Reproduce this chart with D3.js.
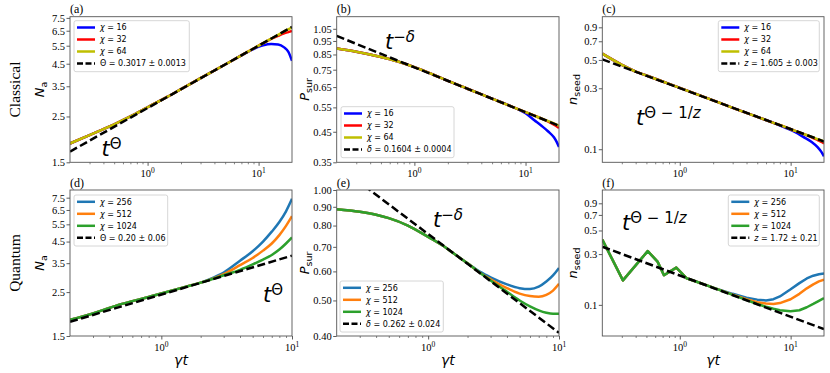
<!DOCTYPE html>
<html>
<head>
<meta charset="utf-8">
<script src="https://cdn.jsdelivr.net/npm/d3@7"></script>
<style>
  body { margin: 0; background: #fff; }
  svg { display: block; }
</style>
</head>
<body>
<div class="container"></div>
<script>
// ---- data ----
// (a) classical N_a
let tA = [0.2, 0.3, 0.4, 0.5, 0.7, 1, 1.5, 2, 3, 5, 7, 9, 11, 13, 15, 17, 18.5, 20]
let naChi16 = [1.85, 2.03, 2.17, 2.29, 2.50, 2.77, 3.11, 3.39, 3.83, 4.46, 4.94, 5.30, 5.52, 5.60, 5.58, 5.40, 5.15, 4.65]
let naChi32 = [1.85, 2.03, 2.17, 2.29, 2.50, 2.77, 3.11, 3.39, 3.83, 4.46, 4.94, 5.33, 5.66, 5.93, 6.14, 6.31, 6.40, 6.48]
let naChi64 = [1.85, 2.03, 2.17, 2.29, 2.50, 2.77, 3.11, 3.39, 3.83, 4.46, 4.94, 5.33, 5.66, 5.95, 6.21, 6.45, 6.60, 6.76]
let naFitT = [0.2, 20]
let naFit = [1.69, 6.78]

// (b) classical P_sur
let tB = [0.2, 0.3, 0.5, 0.7, 1, 1.5, 2, 3, 5, 7, 10, 12, 14, 16, 18, 19, 20]
let psChi16 = [0.893, 0.870, 0.833, 0.804, 0.766, 0.718, 0.684, 0.641, 0.591, 0.560, 0.524, 0.495, 0.472, 0.451, 0.430, 0.415, 0.397]
let psChi32 = [0.893, 0.870, 0.833, 0.804, 0.766, 0.718, 0.684, 0.641, 0.591, 0.560, 0.529, 0.514, 0.501, 0.489, 0.477, 0.471, 0.464]
let psChi64 = [0.893, 0.870, 0.833, 0.804, 0.766, 0.718, 0.684, 0.641, 0.591, 0.560, 0.529, 0.514, 0.501, 0.491, 0.482, 0.477, 0.472]
let psFitT = [0.2, 20]
let psFit = [0.99, 0.473]

// (c) classical n_seed
let tC = [0.2, 0.3, 0.4, 0.5, 0.7, 1, 2, 3, 5, 7, 9, 11, 13, 15.5, 17.5, 19, 20]
let nsChi16 = [0.56, 0.458, 0.405, 0.378, 0.339, 0.302, 0.241, 0.211, 0.179, 0.161, 0.147, 0.136, 0.125, 0.114, 0.104, 0.095, 0.088]
let nsChi32 = [0.56, 0.458, 0.405, 0.378, 0.339, 0.302, 0.241, 0.211, 0.179, 0.161, 0.149, 0.139, 0.132, 0.124, 0.118, 0.114, 0.111]
let nsChi64 = [0.56, 0.458, 0.405, 0.378, 0.339, 0.302, 0.241, 0.211, 0.179, 0.161, 0.149, 0.139, 0.132, 0.125, 0.120, 0.117, 0.115]
let nsFitT = [0.2, 20]
let nsFit = [0.505, 0.115]

// (d) quantum N_a
let tD = [0.2, 0.3, 0.4, 0.5, 0.6, 0.8, 1, 1.5, 2, 2.5, 3, 4, 5, 6, 7, 8, 9, 10]
let qnaChi256 = [1.81, 1.95, 2.08, 2.18, 2.25, 2.36, 2.46, 2.65, 2.79, 2.96, 3.14, 3.60, 4.02, 4.50, 5.05, 5.65, 6.40, 7.40]
let qnaChi512 = [1.81, 1.95, 2.08, 2.18, 2.25, 2.36, 2.46, 2.65, 2.79, 2.93, 3.08, 3.42, 3.72, 4.05, 4.40, 4.85, 5.40, 6.05]
let qnaChi1024 = [1.81, 1.95, 2.08, 2.18, 2.25, 2.36, 2.46, 2.65, 2.79, 2.92, 3.04, 3.24, 3.45, 3.65, 3.85, 4.10, 4.40, 4.72]
let qnaFitT = [0.2, 10]
let qnaFit = [1.77, 3.82]

// (e) quantum P_sur
let tE = [0.2, 0.3, 0.4, 0.5, 0.7, 1, 1.3, 1.6, 2, 2.5, 3, 4, 5, 6, 7, 8, 9, 10]
let qpsChi256 = [0.886, 0.872, 0.856, 0.838, 0.800, 0.745, 0.705, 0.668, 0.631, 0.598, 0.578, 0.553, 0.540, 0.537, 0.545, 0.563, 0.585, 0.613]
let qpsChi512 = [0.886, 0.872, 0.856, 0.838, 0.800, 0.745, 0.705, 0.668, 0.631, 0.594, 0.571, 0.540, 0.522, 0.514, 0.512, 0.518, 0.532, 0.555]
let qpsChi1024 = [0.886, 0.872, 0.856, 0.838, 0.800, 0.745, 0.705, 0.668, 0.631, 0.594, 0.567, 0.528, 0.500, 0.482, 0.470, 0.463, 0.460, 0.460]
let qpsFitT = [0.2, 10]
let qpsFit = [1.17, 0.408]

// (f) quantum n_seed
let tF = [0.2, 0.307, 0.514, 0.63, 0.72, 0.93, 1.15, 1.4, 2, 3, 4, 5, 6, 7, 8, 10, 12, 14, 16, 18, 20]
let qnsChi256 = [0.41, 0.17, 0.32, 0.255, 0.19, 0.224, 0.178, 0.166, 0.145, 0.127, 0.117, 0.112, 0.110, 0.113, 0.120, 0.140, 0.160, 0.177, 0.188, 0.194, 0.197]
let qnsChi512 = [0.41, 0.17, 0.32, 0.255, 0.19, 0.224, 0.178, 0.166, 0.145, 0.125, 0.113, 0.106, 0.103, 0.102, 0.104, 0.113, 0.127, 0.143, 0.156, 0.166, 0.1725]
let qnsChi1024 = [0.41, 0.17, 0.32, 0.255, 0.19, 0.224, 0.178, 0.166, 0.145, 0.124, 0.111, 0.102, 0.096, 0.092, 0.089, 0.087, 0.089, 0.095, 0.102, 0.109, 0.1155]
let qnsFitT = [0.2, 20]
let qnsFit = [0.352, 0.0592]

let ticksNa = [1.5, 2.5, 3.5, 4.5, 5.5, 6.5, 7.5]
let ticksPsC = [0.35, 0.45, 0.55, 0.65, 0.75, 0.85, 0.95, 1.05]
let ticksPsQ = [0.40, 0.50, 0.60, 0.70, 0.80, 0.90, 1.00]
let ticksNs = [0.1, 0.3, 0.5, 0.7, 0.9]

let classicalLabels = ["16", "32", "64"]
let quantumLabels = ["256", "512", "1024"]
let classicalColors = ["#0000ff", "#ff0000", "#bfbf00"]
let quantumColors = ["#1f77b4", "#ff7f0e", "#2ca02c"]

// ---- layout ----
let width = 830
let height = 373
let cols = [[70, 292], [336.7, 559], [602.3, 824]]
let rows = [[16.7, 162.3], [190, 336]]
let serif = "'Liberation Serif', 'Times New Roman', serif"
let sans = "'DejaVu Sans', sans-serif"

let svg = d3.select(".container")
  .append("svg")
  .attr("width", width)
  .attr("height", height)

let panels = [
  { id: "a", col: 0, row: 0, tdom: [0.2, 20], ydom: [1.5, 7.6], yticks: ticksNa, yfmt: ".1f",
    t: tA, series: [naChi16, naChi32, naChi64], fitT: naFitT, fit: naFit,
    colors: classicalColors, labels: classicalLabels, fitSym: "Θ", fitSymItalic: false, fitText: " = 0.3017 ± 0.0013",
    legend: [74, 20.7, 115.3], ylab: ["N", "a"], ylabX: 44,
    note: { x: 101.5, y: 156, sup: "Θ" } },
  { id: "b", col: 1, row: 0, tdom: [0.2, 20], ydom: [0.35, 1.16], yticks: ticksPsC, yfmt: ".2f",
    t: tB, series: [psChi16, psChi32, psChi64], fitT: psFitT, fit: psFit,
    colors: classicalColors, labels: classicalLabels, fitSym: "δ", fitSymItalic: true, fitText: " = 0.1604 ± 0.0004",
    legend: [341, 106.7, 113], ylab: ["P", "sur"], ylabX: 309,
    note: { x: 385, y: 48.5, sup: "−δ" } },
  { id: "c", col: 2, row: 0, tdom: [0.2, 20], ydom: [0.079, 1.09], yticks: ticksNs, yfmt: ".1f",
    t: tC, series: [nsChi16, nsChi32, nsChi64], fitT: nsFitT, fit: nsFit,
    colors: classicalColors, labels: classicalLabels, fitSym: "z", fitSymItalic: true, fitText: " = 1.605 ± 0.003",
    legend: [718.3, 20.7, 101], ylab: ["n", "seed"], ylabX: 577,
    note: { x: 636, y: 125, sup: "Θ − 1/z" } },
  { id: "d", col: 0, row: 1, tdom: [0.2, 10], ydom: [1.5, 8.2], yticks: ticksNa, yfmt: ".1f",
    t: tD, series: [qnaChi256, qnaChi512, qnaChi1024], fitT: qnaFitT, fit: qnaFit,
    colors: quantumColors, labels: quantumLabels, fitSym: "Θ", fitSymItalic: false, fitText: " = 0.20 ± 0.06",
    legend: [74, 195, 93.7], ylab: ["N", "a"], ylabX: 44,
    note: { x: 263, y: 301.5, sup: "Θ" } },
  { id: "e", col: 1, row: 1, tdom: [0.2, 10], ydom: [0.4, 1.0], yticks: ticksPsQ, yfmt: ".2f",
    t: tE, series: [qpsChi256, qpsChi512, qpsChi1024], fitT: qpsFitT, fit: qpsFit,
    colors: quantumColors, labels: quantumLabels, fitSym: "δ", fitSymItalic: true, fitText: " = 0.262 ± 0.024",
    legend: [340, 281, 103.3], ylab: ["P", "sur"], ylabX: 309,
    note: { x: 433, y: 226.5, sup: "−δ" } },
  { id: "f", col: 2, row: 1, tdom: [0.2, 20], ydom: [0.051, 1.2], yticks: ticksNs, yfmt: ".1f",
    t: tF, series: [qnsChi256, qnsChi512, qnsChi1024], fitT: qnsFitT, fit: qnsFit,
    colors: quantumColors, labels: quantumLabels, fitSym: "z", fitSymItalic: true, fitText: " = 1.72 ± 0.21",
    legend: [728.3, 195, 91], ylab: ["n", "seed"], ylabX: 577,
    note: { x: 622, y: 230, sup: "Θ − 1/z" }, sharp: true }
]

panels.forEach(drawPanel)

// row titles
svg.append("text")
  .attr("transform", "translate(20," + ((rows[0][0] + rows[0][1]) / 2) + ") rotate(-90)")
  .attr("text-anchor", "middle")
  .attr("font-family", serif)
  .attr("font-size", "15.5px")
  .text("Classical")
svg.append("text")
  .attr("transform", "translate(20," + ((rows[1][0] + rows[1][1]) / 2) + ") rotate(-90)")
  .attr("text-anchor", "middle")
  .attr("font-family", serif)
  .attr("font-size", "15.5px")
  .text("Quantum")

function drawPanel(p) {
  let x0 = cols[p.col][0], x1 = cols[p.col][1]
  let y0 = rows[p.row][0], y1 = rows[p.row][1]
  let x = d3.scaleLog().domain(p.tdom).range([x0, x1])
  let y = d3.scaleLog().domain(p.ydom).range([y1, y0])

  svg.append("clipPath")
    .attr("id", "clip-" + p.id)
    .append("rect")
    .attr("x", x0).attr("y", y0)
    .attr("width", x1 - x0).attr("height", y1 - y0)

  // minor x ticks
  let minor = []
  for (let k = -1; k <= 1; k++) {
    for (let m = 2; m <= 9; m++) {
      let v = m * Math.pow(10, k)
      if (v > p.tdom[0] * 1.0001 && v < p.tdom[1] * 0.9999) minor.push(v)
    }
  }
  svg.append("g")
    .attr("transform", "translate(0," + y1 + ")")
    .call(d3.axisBottom(x).tickValues(minor).tickSize(2).tickFormat(""))
    .call(g => g.select(".domain").remove())
    .call(g => g.selectAll("line").attr("stroke", "#333").attr("stroke-width", 0.6))

  let majors = [1, 10].filter(v => v >= p.tdom[0] && v <= p.tdom[1])
  let xg = svg.append("g")
    .attr("transform", "translate(0," + y1 + ")")
    .call(d3.axisBottom(x).tickValues(majors).tickSize(3.5).tickFormat(""))
    .call(g => g.select(".domain").remove())
    .call(g => g.selectAll("line").attr("stroke", "#333").attr("stroke-width", 0.8))

  majors.forEach(function (v) {
    let lab = svg.append("text")
      .attr("x", x(v))
      .attr("y", y1 + 15)
      .attr("text-anchor", "middle")
      .attr("font-family", serif)
      .attr("font-size", "10.5px")
    lab.append("tspan").text("10")
    lab.append("tspan").attr("dy", -4.5).attr("font-size", "7.5px").text(v === 1 ? "0" : "1")
  })

  // y axis
  svg.append("g")
    .attr("transform", "translate(" + x0 + ",0)")
    .call(d3.axisLeft(y).tickValues(p.yticks).tickSize(3.5).tickPadding(1.5).tickFormat(d3.format(p.yfmt)))
    .call(g => g.select(".domain").remove())
    .call(g => g.selectAll("line").attr("stroke", "#333").attr("stroke-width", 0.8))
    .call(g => g.selectAll("text").attr("font-family", serif).attr("font-size", "10.5px").attr("fill", "#000"))

  // curves
  let line = d3.line()
    .curve(p.sharp ? d3.curveLinear : d3.curveMonotoneX)
    .x(function (d) { return x(d[0]) })
    .y(function (d) { return y(d[1]) })

  let plot = svg.append("g").attr("clip-path", "url(#clip-" + p.id + ")")
  p.series.forEach(function (vals, i) {
    plot.append("path")
      .datum(p.t.map(function (t, j) { return [t, vals[j]] }))
      .attr("d", line)
      .attr("fill", "none")
      .attr("stroke", p.colors[i])
      .attr("stroke-width", 2.5)
      .attr("stroke-linejoin", "round")
  })
  plot.append("path")
    .datum(p.fitT.map(function (t, j) { return [t, p.fit[j]] }))
    .attr("d", d3.line().x(d => x(d[0])).y(d => y(d[1])))
    .attr("fill", "none")
    .attr("stroke", "#000")
    .attr("stroke-width", 2.5)
    .attr("stroke-dasharray", "8,3.5")

  // frame
  svg.append("rect")
    .attr("x", x0).attr("y", y0)
    .attr("width", x1 - x0).attr("height", y1 - y0)
    .attr("fill", "none")
    .attr("stroke", "#555")
    .attr("stroke-width", 0.9)

  // annotation t^...
  let note = svg.append("text")
    .attr("x", p.note.x)
    .attr("y", p.note.y)
    .attr("font-family", sans)
    .attr("font-size", "21px")
  note.append("tspan").attr("font-style", "italic").text("t")
  let sup = p.note.sup
  if (sup === "Θ − 1/z") {
    let s = note.append("tspan").attr("dy", -7).attr("font-size", "15px")
    s.text("Θ − 1/")
    note.append("tspan").attr("font-size", "15px").attr("font-style", "italic").text("z")
  } else if (sup === "−δ") {
    note.append("tspan").attr("dy", -7).attr("font-size", "15px").text("−")
    note.append("tspan").attr("font-size", "15px").attr("font-style", "italic").text("δ")
  } else {
    note.append("tspan").attr("dy", -7).attr("font-size", "15px").text(sup)
  }

  // panel letter
  svg.append("text")
    .attr("x", x0)
    .attr("y", y0 - 3.5)
    .attr("font-family", serif)
    .attr("font-size", "12px")
    .text("(" + p.id + ")")

  // y label
  let yl = svg.append("text")
    .attr("transform", "translate(" + p.ylabX + "," + ((y0 + y1) / 2) + ") rotate(-90)")
    .attr("text-anchor", "middle")
    .attr("font-family", sans)
    .attr("font-size", "13px")
  yl.append("tspan").attr("font-style", "italic").text(p.ylab[0])
  yl.append("tspan").attr("dy", 3).attr("font-size", "9.5px").text(p.ylab[1])

  // x label on bottom row
  if (p.row === 1) {
    let xl = svg.append("text")
      .attr("x", (x0 + x1) / 2)
      .attr("y", 365)
      .attr("text-anchor", "middle")
      .attr("font-family", sans)
      .attr("font-size", "14px")
      .attr("font-style", "italic")
      .text("γt")
  }

  // legend
  let lx = p.legend[0], ly = p.legend[1], lw = p.legend[2]
  let leg = svg.append("g")
  leg.append("rect")
    .attr("x", lx).attr("y", ly)
    .attr("width", lw).attr("height", 51)
    .attr("rx", 2)
    .attr("fill", "#fff")
    .attr("fill-opacity", 0.8)
    .attr("stroke", "#ccc")
    .attr("stroke-width", 0.8)
  for (let i = 0; i < 4; i++) {
    let ry = ly + 6.8 + i * 12
    let ln = leg.append("line")
      .attr("x1", lx + 3).attr("x2", lx + 21)
      .attr("y1", ry).attr("y2", ry)
      .attr("stroke-width", 2.5)
    let tx = leg.append("text")
      .attr("x", lx + 26).attr("y", ry)
      .attr("dy", "0.35em")
      .attr("font-family", sans)
      .attr("font-size", "8px")
    if (i < 3) {
      ln.attr("stroke", p.colors[i])
      tx.append("tspan").attr("font-style", "italic").text("χ")
      tx.append("tspan").text(" = " + p.labels[i])
    } else {
      ln.attr("stroke", "#000").attr("stroke-dasharray", "6,2.5")
      tx.append("tspan").attr("font-style", p.fitSymItalic ? "italic" : "normal").text(p.fitSym)
      tx.append("tspan").text(p.fitText)
    }
  }
}
</script>
</body>
</html>
